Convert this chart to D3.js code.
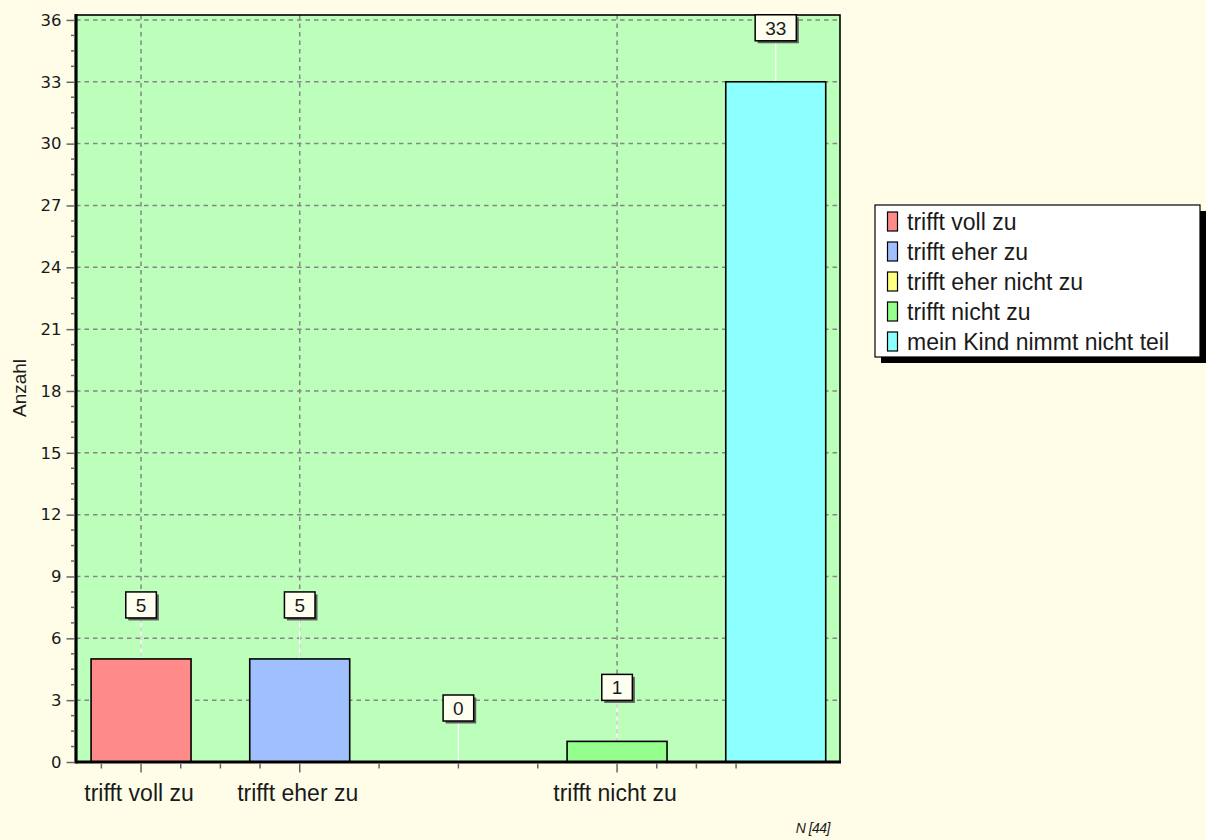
<!DOCTYPE html>
<html>
<head>
<meta charset="utf-8">
<script src="https://cdn.jsdelivr.net/npm/d3@7"></script>
<style>
  body { margin: 0; background: #fffde8; }
  svg { display: block; }
  text { font-family: "Liberation Sans", Arial, sans-serif; fill: #1a1a1a; }
</style>
</head>
<body>
<svg width="1206" height="840"></svg>
<script>
// data
const categories = ['trifft voll zu', 'trifft eher zu', 'trifft eher nicht zu', 'trifft nicht zu', 'mein Kind nimmt nicht teil'];
const values = [5, 5, 0, 1, 33];
const barColors = ['#ff8a8a', '#a0bfff', '#ffff80', '#94ff8c', '#8cffff'];
const yTickValues = [0, 3, 6, 9, 12, 15, 18, 21, 24, 27, 30, 33, 36];
const xLabelIdx = [0, 1, 3];          // only these category labels are printed
const sampleSize = 'N [44]';

const svg = d3.select('svg');

const plot = {left: 76, right: 840, top: 15, bottom: 762};

const x = d3.scaleLinear()            // category index -> px
            .domain([-0.41, 4.405])
            .range([plot.left, plot.right]);

const y = d3.scaleLinear()
            .domain([0, 36.24])
            .range([plot.bottom, plot.top]);

const halfBar = 0.315;

// plot background
svg.append('rect')
   .attr('x', plot.left).attr('y', plot.top)
   .attr('width', plot.right - plot.left).attr('height', plot.bottom - plot.top)
   .attr('fill', '#bbffbb');

// grid
const grid = svg.append('g')
                .attr('stroke', '#868686').attr('stroke-width', 1.5)
                .attr('stroke-dasharray', '4.5,4');
grid.selectAll('.hg')
    .data(yTickValues.filter(v => v > 0))
    .enter().append('line')
    .attr('x1', plot.left).attr('x2', plot.right)
    .attr('y1', d => y(d)).attr('y2', d => y(d));
grid.selectAll('.vg')
    .data(xLabelIdx)
    .enter().append('line')
    .attr('x1', d => x(d)).attr('x2', d => x(d))
    .attr('y1', plot.top).attr('y2', plot.bottom);

// leader lines from bar top to label box
const boxGap = 41, boxH = 26;
svg.append('g').selectAll('line')
   .data(values)
   .enter().append('line')
   .attr('x1', (d, i) => x(i)).attr('x2', (d, i) => x(i))
   .attr('y1', d => y(d)).attr('y2', d => y(d) - boxGap)
   .attr('stroke', '#ffffff').attr('stroke-width', 1.2);

// bars
svg.append('g').selectAll('rect')
   .data(values)
   .enter().append('rect')
   .attr('x', (d, i) => x(i - halfBar))
   .attr('width', (d, i) => x(i + halfBar) - x(i - halfBar))
   .attr('y', d => y(d))
   .attr('height', d => y(0) - y(d))
   .attr('fill', (d, i) => barColors[i])
   .attr('stroke', '#000').attr('stroke-width', 1.6)
   .style('display', d => d > 0 ? null : 'none');

// frame
svg.append('rect')
   .attr('x', plot.left).attr('y', plot.top)
   .attr('width', plot.right - plot.left).attr('height', plot.bottom - plot.top)
   .attr('fill', 'none').attr('stroke', '#000').attr('stroke-width', 1.6);
svg.append('line')       // thick y axis
   .attr('x1', plot.left).attr('x2', plot.left)
   .attr('y1', plot.top - 1).attr('y2', plot.bottom + 1.5)
   .attr('stroke', '#000').attr('stroke-width', 3.2);
svg.append('line')       // thick x axis
   .attr('x1', plot.left).attr('x2', plot.right + 1)
   .attr('y1', plot.bottom).attr('y2', plot.bottom)
   .attr('stroke', '#000').attr('stroke-width', 3.2);

// y axis ticks + labels
const yAxis = d3.axisLeft(y)
                .tickValues(yTickValues)
                .tickSize(8)
                .tickPadding(5)
                .tickFormat(d3.format('d'));
const yG = svg.append('g')
              .attr('transform', `translate(${plot.left - 1.5},0)`)
              .call(yAxis);
yG.select('.domain').remove();
yG.selectAll('line').attr('stroke', '#666').attr('stroke-width', 1.5);
yG.selectAll('text')
  .style('font-family', '"DejaVu Sans", Verdana, sans-serif')
  .style('font-size', '16.5px').attr('fill', '#1a1a1a');

const yMinor = d3.range(0, 36.01, 0.75).filter(v => yTickValues.indexOf(v) < 0);
svg.append('g').selectAll('line')
   .data(yMinor)
   .enter().append('line')
   .attr('x1', plot.left - 5).attr('x2', plot.left - 1.5)
   .attr('y1', d => y(d)).attr('y2', d => y(d))
   .attr('stroke', '#666').attr('stroke-width', 1.5);

// x axis ticks: majors at printed labels, 3 minors between (and same spacing outside)
const xMinor = [];
xLabelIdx.forEach((v, k) => {
  const next = xLabelIdx[k + 1];
  const step = next !== undefined ? (next - v) / 4 : 0.25;
  if (k === 0) xMinor.push(v - step);
  for (let j = 1; j < 4; j++) xMinor.push(v + j * step);
});
const xG = svg.append('g')
              .attr('transform', `translate(0,${plot.bottom + 1.5})`);
xG.selectAll('.maj')
  .data(xLabelIdx)
  .enter().append('line')
  .attr('x1', d => x(d)).attr('x2', d => x(d))
  .attr('y1', 0).attr('y2', 9)
  .attr('stroke', '#666').attr('stroke-width', 1.5);
xG.selectAll('.min')
  .data(xMinor.filter(v => v > x.domain()[0] && v < x.domain()[1]))
  .enter().append('line')
  .attr('x1', d => x(d)).attr('x2', d => x(d))
  .attr('y1', 0).attr('y2', 5)
  .attr('stroke', '#666').attr('stroke-width', 1.5);
xG.selectAll('text')
  .data(xLabelIdx)
  .enter().append('text')
  .attr('x', d => x(d) - 2)
  .attr('y', 37)
  .attr('text-anchor', 'middle')
  .style('font-size', '23px')
  .text(d => categories[d]);

// value label boxes
const vl = svg.append('g').selectAll('g')
              .data(values)
              .enter().append('g')
              .attr('transform', (d, i) => `translate(${x(i)},${y(d) - boxGap - boxH / 2})`);
vl.append('rect').attr('class', 'sh').attr('fill', '#5e5e5e');
vl.append('rect').attr('class', 'bx').attr('fill', '#fffff0')
  .attr('stroke', '#000').attr('stroke-width', 1.5);
vl.append('text')
  .attr('text-anchor', 'middle')
  .attr('dy', '0.36em')
  .style('font-size', '19px')
  .text(d => d);
vl.each(function () {
  const g = d3.select(this);
  const w = g.select('text').node().getComputedTextLength() + 20;
  g.select('.bx').attr('x', -w / 2).attr('y', -boxH / 2).attr('width', w).attr('height', boxH);
  g.select('.sh').attr('x', -w / 2 + 2.5).attr('y', -boxH / 2 + 2.5).attr('width', w).attr('height', boxH);
});

// axis title
svg.append('text')
   .attr('transform', 'translate(26,388) rotate(-90)')
   .attr('text-anchor', 'middle')
   .style('font-size', '19px')
   .text('Anzahl');

// sample size note
svg.append('text')
   .attr('x', 830).attr('y', 833)
   .attr('text-anchor', 'end')
   .style('font-size', '14px').style('font-style', 'italic')
   .style('letter-spacing', '-0.5px')
   .text(sampleSize);

// legend
const lg = {x: 875, y: 205, w: 325, h: 152, row: 30};
svg.append('rect')
   .attr('x', lg.x + 6).attr('y', lg.y + 6).attr('width', lg.w).attr('height', lg.h)
   .attr('fill', '#000');
svg.append('rect')
   .attr('x', lg.x).attr('y', lg.y).attr('width', lg.w).attr('height', lg.h)
   .attr('fill', '#fff').attr('stroke', '#000').attr('stroke-width', 1.2);
const items = svg.append('g').selectAll('g')
                 .data(categories)
                 .enter().append('g')
                 .attr('transform', (d, i) => `translate(${lg.x},${lg.y + 16.5 + i * lg.row})`);
items.append('rect')
     .attr('x', 12.5).attr('y', -9.5).attr('width', 10).attr('height', 19)
     .attr('fill', (d, i) => barColors[i])
     .attr('stroke', '#000').attr('stroke-width', 1.2);
items.append('text')
     .attr('x', 32).attr('y', 8)
     .style('font-size', '23px')
     .text(d => d);
</script>
</body>
</html>
